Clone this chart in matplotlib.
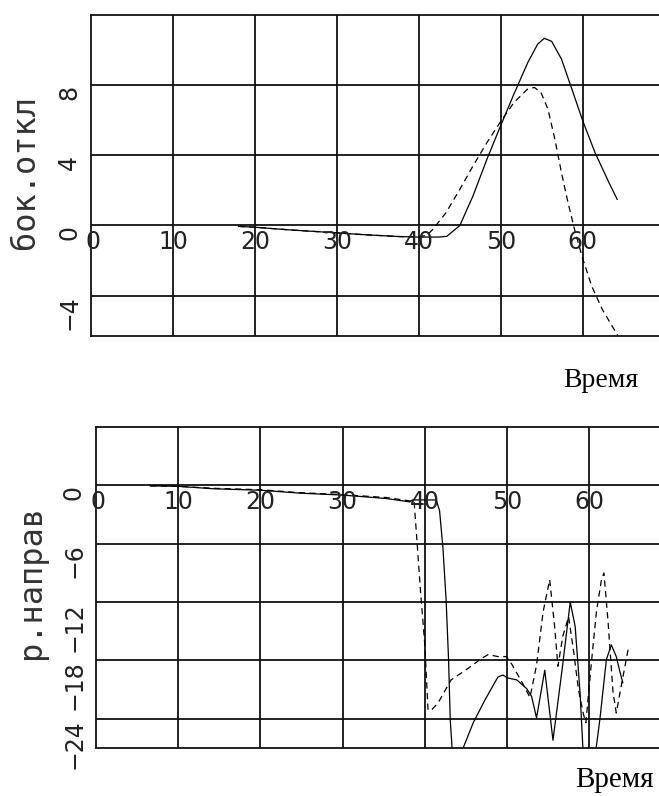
import matplotlib
matplotlib.use("Agg")
import matplotlib.pyplot as plt

# top panel: lateral deviation
t_bok_solid = [18.0, 20.0, 24.2, 30.0, 33.5, 37.6, 40.0, 42.4, 43.4, 45.0, 46.6, 48.3,
               49.9, 51.6, 53.3, 54.5, 55.3, 56.2, 57.4, 58.6, 60.0, 61.5, 63.2, 64.2]
bok_solid = [-0.05, -0.1, -0.25, -0.42, -0.53, -0.63, -0.66, -0.66, -0.62, 0.0, 1.68, 3.77,
             5.6, 7.49, 9.3, 10.34, 10.67, 10.5, 9.49, 7.87, 5.96, 4.15, 2.44, 1.49]
t_bok_dash = [18.0, 20.0, 24.2, 30.0, 33.5, 37.6, 40.0, 41.0, 41.65, 43.3, 45.0, 46.6, 48.3, 49.9,
              51.6, 53.25, 54.1, 54.9, 55.75, 56.6, 57.4, 58.2, 59.0, 59.9, 61.1, 62.4, 64.3]
bok_dash = [-0.05, -0.1, -0.25, -0.42, -0.53, -0.63, -0.66, -0.55, -0.25, 0.72, 2.06, 3.39, 4.72, 5.87,
            7.01, 7.77, 7.87, 7.58, 6.63, 4.91, 3.01, 1.3, -0.23, -1.75, -3.47, -4.8, -6.3]

# bottom panel: steering
t_nap_solid = [6.6, 10, 14.3, 20, 24.8, 30, 35.3, 38.2, 38.5, 41.4, 41.8, 42.2, 42.6, 42.9, 43.1,
               43.4, 44.2, 45.9, 47.3, 48.9, 49.5, 50.1, 51.2, 52.4, 53.0, 53.6, 54.6, 55.6, 56.7,
               57.7, 58.3, 58.9, 59.3, 60.7, 61.3, 62.1, 62.7, 63.3, 63.7, 64.1]
nap_solid = [-0.05, -0.1, -0.35, -0.5, -0.8, -1.0, -1.35, -1.7, -1.5, -1.5, -2.6, -6.3, -11.8, -18.0, -24.1,
             -28, -28, -24.4, -22.1, -19.7, -19.5, -19.8, -20.0, -20.9, -21.7, -23.9, -19.0, -26.2, -19.0,
             -12.0, -14.5, -21.4, -28, -28, -24.1, -17.9, -16.4, -17.6, -19.0, -20.3]
t_nap_dash = [6.6, 10, 14.3, 20, 24.8, 30, 35.3, 38.2, 38.7, 39.1, 39.5, 40.0, 40.3, 40.4, 40.8, 41.6,
              43.2, 45.3, 46.9, 47.7, 48.9, 49.9, 50.6, 51.2, 52.0, 52.8, 53.6, 54.4, 55.2, 55.8, 56.2,
              56.8, 57.5, 58.1, 58.7, 59.3, 59.6, 60.3, 60.9, 61.5, 61.8, 62.3, 62.9, 63.3, 64.0, 64.8]
nap_dash = [-0.05, -0.1, -0.3, -0.45, -0.75, -0.95, -1.25, -1.6, -1.6, -6.3, -11.1, -16.3, -21.4, -23.1,
            -23.1, -22.4, -20.0, -18.8, -17.8, -17.4, -17.6, -17.6, -18.4, -19.3, -20.5, -21.8, -18.5,
            -13.0, -9.7, -14.5, -18.6, -15.5, -13.5, -17.0, -21.0, -23.5, -24.4, -18.0, -12.9, -9.7,
            -9.0, -14.0, -21.2, -23.4, -20.2, -16.6]

x_ticks = [0, 10, 20, 30, 40, 50, 60]
bok_ticks = [-4, 0, 4, 8]
nap_ticks = [-24, -18, -12, -6, 0]

W, H = 659, 796
fig = plt.figure(figsize=(W / 100, H / 100), dpi=100)

num_font = dict(family="DejaVu Sans", size=17, color="#222222")
lab_font = dict(family="DejaVu Sans Mono", size=23, color="#333333")


def fmt(v):
    return str(v).replace("-", "\u2212")


def panel(rect, xmax, ylim, yticks, t1, y1, t2, y2, ylabel, ylab_pos, time_pos):
    ax = fig.add_axes(rect)
    ax.plot(t1, y1, color="black", lw=0.9)
    ax.plot(t2, y2, color="black", lw=0.9, linestyle=(0, (5, 3.5)))
    ax.set_xlim(0, xmax)
    ax.set_ylim(*ylim)
    ax.set_xticks(x_ticks[1:])
    ax.set_yticks(yticks)
    ax.grid(True, color="#111111", lw=1.3)
    ax.tick_params(length=0, labelbottom=False, labelleft=False)
    for side in ["left", "top", "bottom"]:
        ax.spines[side].set_linewidth(1.3)
        ax.spines[side].set_color("#111111")
    ax.spines["right"].set_visible(False)

    # rotated value labels left of the frame
    for yv in yticks:
        ax.annotate(fmt(yv), xy=(0, yv), xycoords=("axes fraction", "data"),
                    xytext=(-10, 0), textcoords="offset pixels",
                    rotation=90, ha="right", va="top", **num_font)
    # time labels sit just under the zero line
    for xv in x_ticks:
        dx = 2 if xv == 0 else 0
        ax.annotate(str(xv), xy=(xv, 0), xycoords="data",
                    xytext=(dx, -5), textcoords="offset pixels",
                    ha="center", va="top", annotation_clip=False, **num_font)

    fig.text(ylab_pos[0] / W, 1 - ylab_pos[1] / H, ylabel, rotation=90,
             ha="center", va="center", **lab_font)
    fig.text(time_pos[0] / W, 1 - time_pos[1] / H, "Время", ha="left", va="baseline",
             family="Liberation Serif", size=time_pos[2], color="black")
    return ax


panel([91 / W, 1 - 336 / H, 568 / W, 321 / H], 69.3, (-6.3, 12), bok_ticks,
      t_bok_solid, bok_solid, t_bok_dash, bok_dash,
      "бок.откл", (26, 172), (563, 387, 20))

panel([96 / W, 1 - 748 / H, 563 / W, 321 / H], 68.5, (-27, 6), nap_ticks,
      t_nap_solid, nap_solid, t_nap_dash, nap_dash,
      "р.направ", (31, 582), (575, 787, 21))

fig.savefig("out.png", dpi=100)
